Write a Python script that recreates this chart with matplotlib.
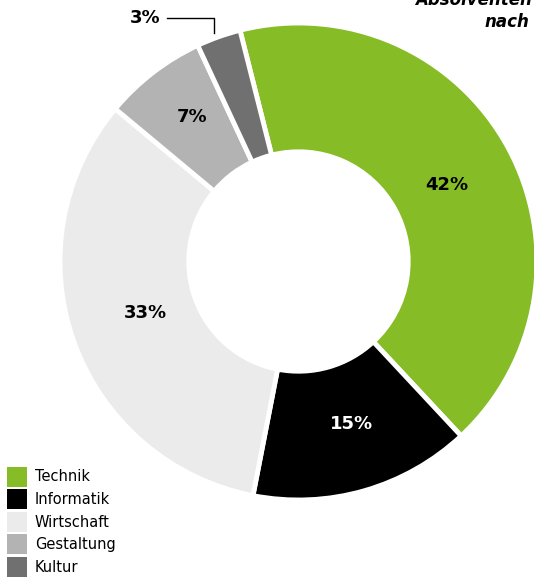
import matplotlib.pyplot as plt
from matplotlib.patches import Patch

labels = ["Technik", "Informatik", "Wirtschaft", "Gestaltung", "Kultur"]
values = [42, 15, 33, 7, 3]
colors = ["#86bc25", "#000000", "#ebebeb", "#b3b3b3", "#707070"]

W, H = 534, 577
cx, cy, R = 298.5, 261.5, 238.5

fig = plt.figure(figsize=(W / 100, H / 100), dpi=100)
ax = fig.add_axes([0, 0, 1, 1])

wedges, _ = ax.pie(values, colors=colors, startangle=104.2, counterclock=False,
                   radius=1.0, wedgeprops=dict(width=0.54, edgecolor="white", linewidth=3.5))
ax.set_aspect("auto")
ax.set_xlim(-cx / R, (W - cx) / R)
ax.set_ylim(-(H - cy) / R, cy / R)
ax.axis("off")


def px(x, y):
    return (x - cx) / R, (cy - y) / R


# percentage labels
label_pos = [(447, 185), (351, 424), (145, 313), (192, 117)]
for v, (x, y) in zip(values[:4], label_pos):
    ax.text(*px(x, y), f"{v}%", ha="center", va="center", fontsize=13, fontweight="bold",
            color="black" if v != 15 else "white")

# small slice with leader line
ax.text(*px(145, 18), f"{values[4]}%", ha="center", va="center", fontsize=13, fontweight="bold")
lx = [px(167, 18)[0], px(214, 18)[0], px(214, 33)[0]]
ly = [px(167, 18)[1], px(214, 18)[1], px(214, 33)[1]]
ax.plot(lx, ly, color="black", linewidth=1)

# title (cut off at the top right, as in the source)
ax.text(*px(415, 5), "Absolventen", ha="left", va="baseline", fontsize=12,
        fontweight="bold", fontstyle="italic")
ax.text(*px(529, 27), "nach", ha="right", va="baseline", fontsize=12,
        fontweight="bold", fontstyle="italic")

handles = [Patch(facecolor=c, edgecolor="none") for c in colors]
fig.legend(handles, labels, loc="lower left", bbox_to_anchor=(7 / W, 0.0), frameon=False,
           fontsize=10.5, handlelength=1.37, handleheight=1.73, handletextpad=0.55,
           labelspacing=0.18, borderaxespad=0, borderpad=0)

fig.savefig("out.png", dpi=100)
